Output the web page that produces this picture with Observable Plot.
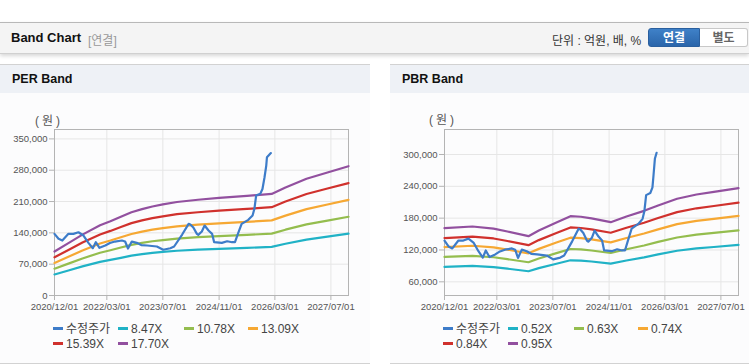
<!DOCTYPE html>
<html><head><meta charset="utf-8">
<script src="https://cdn.jsdelivr.net/npm/d3@7"></script>
<script src="https://cdn.jsdelivr.net/npm/@observablehq/plot@0.6"></script>
<style>
body{margin:0;width:749px;height:364px;position:relative;overflow:hidden;background:#fff;font-family:"Liberation Sans","Noto Sans CJK KR",sans-serif;color:#333;}
.abs{position:absolute;}
.topbar{left:0;top:22px;width:749px;height:30px;background:#f4f4f4;border-top:1px solid #b8b8b8;border-bottom:1px solid #d0d0d0;box-shadow:0 2px 4px rgba(0,0,0,0.16);}
.ttl{font-weight:bold;font-size:13px;color:#111;white-space:nowrap;}
.sub{font-size:12px;color:#999;white-space:nowrap;}
.unit{font-size:12px;color:#333;white-space:nowrap;}
.btn{top:28px;height:19px;line-height:19px;text-align:center;font-size:12px;font-weight:bold;box-sizing:border-box;}
.b1{left:648px;width:52px;background:linear-gradient(#3f81c8,#2a65aa);color:#fff;border:1px solid #2a5f9e;border-radius:3px 0 0 3px;}
.b2{left:700px;width:48px;background:#fff;color:#666;border:1px solid #c8c8c8;border-left:none;border-radius:0 3px 3px 0;}
.panel{top:64px;height:298px;background:#fcfcfd;border-top:1px solid #d2d2d2;border-bottom:1px solid #d2d2d2;}
.phead{left:0;top:0;right:0;height:28px;background:#eef1f6;}
.ptitle{font-weight:bold;font-size:12.5px;color:#111;top:7px;}
.unitlbl{font-size:12px;color:#555;white-space:nowrap;letter-spacing:3px;}
.leg{font-size:12px;color:#444;white-space:nowrap;height:14px;line-height:14px;}
.leg i{display:inline-block;width:10px;height:3px;vertical-align:middle;margin-right:3px;position:relative;top:-1px;}
</style></head>
<body>
<div class="abs topbar"></div>
<div class="abs ttl" style="left:11px;top:30px;">Band Chart</div>
<div class="abs sub" style="left:88px;top:31px;">[연결]</div>
<div class="abs unit" style="left:552px;top:31px;">단위 : 억원, 배, %</div>
<div class="abs btn b1">연결</div>
<div class="abs btn b2">별도</div>

<div class="abs panel" style="left:0;width:370px;"><div class="abs phead"></div><div class="abs ptitle" style="left:12px;">PER Band</div></div>
<div class="abs panel" style="left:390px;width:359px;"><div class="abs phead"></div><div class="abs ptitle" style="left:12px;">PBR Band</div></div>

<div class="abs unitlbl" style="left:35px;top:111px;">(원)</div>
<div class="abs unitlbl" style="left:429px;top:110px;">(원)</div>

<div id="per" class="abs" style="left:0;top:100px;"></div>
<div id="pbr" class="abs" style="left:390px;top:100px;"></div>
<div id="legends"></div>

<script>
// ---- shared categories / ticks ----
const tickLabels = ["2020/12/01","2022/03/01","2023/07/01","2024/11/01","2026/03/01","2027/07/01"];
const xStart = "2020-12-01";
const xEnd = "2027-12-01";
const seriesNames = ["수정주가"];
const colors = ["#3d7cc9","#20b2c6","#94bd4e","#f6a833","#d0312d","#92509f"];

// ---- adjusted share price (원) ----
const priceDates = ["2020-12-01","2021-01-05","2021-02-07","2021-04-01","2021-05-14","2021-06-27","2021-08-10","2021-09-22","2021-10-30","2021-11-25","2021-12-27","2022-02-15","2022-03-28","2022-05-10","2022-07-10","2022-08-07","2022-09-01","2022-10-04","2022-11-16","2022-12-25","2023-02-15","2023-05-10","2023-07-04","2023-09-04","2023-10-07","2023-12-16","2024-02-10","2024-02-25","2024-03-22","2024-04-22","2024-05-04","2024-06-04","2024-06-28","2024-08-01","2024-09-01","2024-09-19","2024-11-25","2025-01-10","2025-02-22","2025-03-19","2025-04-19","2025-05-16","2025-07-13","2025-08-19","2025-09-04","2025-09-19","2025-10-25","2025-11-13"];
const priceValues = [137800,126700,122900,137800,137800,141400,134000,117700,105700,119100,106600,111700,117300,120600,122900,120600,105000,120600,117700,112800,111700,109500,102300,105700,109500,136300,160200,158600,151900,137800,135600,143000,156400,145200,137800,119100,117700,121300,119100,119100,141400,160200,169100,178700,193700,223400,227200,238000];
const perTailDates = ["2025-12-01","2025-12-16","2025-12-22","2026-01-25"];
const perTailValues = [264300,290400,309000,318300];
const pbrTailDates = ["2025-11-22","2025-12-04","2025-12-19"];
const pbrTailValues = [260400,291900,303200];

// ---- PER band: EPS (원) and multiples ----
const epsDates = ["2020-12-01","2021-04-01","2021-08-01","2022-01-01","2022-04-01","2022-07-01","2022-10-01","2023-01-01","2023-04-01","2023-07-01","2023-11-01","2024-05-01","2024-11-01","2025-07-01","2026-02-01","2026-06-01","2026-12-01","2027-06-01","2027-12-01"];
const epsValues = [5554,6610,7684,8870,9379,9944,10508,10904,11243,11497,11808,12090,12316,12571,12825,13644,14746,15537,16328];
const perMultiples = [8.47,10.78,13.09,15.39,17.70];
const perTicks = [0,70000,140000,210000,280000,350000];

// ---- PBR band: BPS (원) and multiples ----
const bpsDates = ["2020-12-01","2021-08-01","2022-02-01","2022-06-01","2022-12-01","2023-03-01","2023-08-01","2023-12-01","2024-03-01","2024-06-01","2024-11-15","2025-04-01","2025-09-01","2026-01-01","2026-06-15","2026-12-01","2027-05-01","2027-12-01"];
const bpsValues = [169600,172900,168700,163000,153700,165000,181000,193400,192200,189000,181500,192800,204000,214600,227900,236400,241500,249200];
const pbrMultiples = [0.52,0.63,0.74,0.84,0.95];
const pbrTicks = [60000,120000,180000,240000,300000];

const parse = s => new Date(s.replace(/\//g,"-") + "T00:00:00Z");
const tickDates = tickLabels.map(parse);
const labelOf = new Map(tickDates.map((d,i)=>[+d, tickLabels[i]]));

function build({baseDates, baseValues, multiples, tailDates, tailValues, yDomain, yTicks, width, marginRight}) {
  const price = priceDates.concat(tailDates).map((d,i)=>({date: parse(d), value: priceValues.concat(tailValues)[i]}));
  const bands = multiples.map(k => baseDates.map((d,i)=>({date: parse(d), value: baseValues[i]*k})));
  return Plot.plot({
    width, height: 220, marginTop: 29, marginBottom: 25, marginLeft: 54, marginRight,
    style: {fontFamily: '"Liberation Sans", sans-serif', fontSize: "9.5px", background: "transparent", overflow: "visible"},
    x: {type: "utc", domain: [parse(xStart), parse(xEnd)]},
    y: {domain: yDomain},
    marks: [
      Plot.gridX(tickDates, {stroke: "#e6e6e6", strokeOpacity: 1}),
      Plot.gridY(yTicks, {stroke: "#e6e6e6", strokeOpacity: 1}),
      Plot.frame({stroke: "#b4b4b4"}),
      Plot.axisX(tickDates, {tickSize: 5, tickPadding: 3, tickFormat: d => labelOf.get(+d), stroke: "#b4b4b4", fill: "#555", label: null}),
      Plot.axisY(yTicks, {tickSize: 5, tickPadding: 2, tickFormat: d3.format(","), stroke: "#b4b4b4", fill: "#555", label: null}),
      ...bands.map((b,j) => Plot.line(b, {x: "date", y: "value", stroke: colors[j+1], strokeWidth: 2.2})),
      Plot.line(price, {x: "date", y: "value", stroke: colors[0], strokeWidth: 2.2})
    ]
  });
}

document.getElementById("per").append(build({baseDates: epsDates, baseValues: epsValues, multiples: perMultiples, tailDates: perTailDates, tailValues: perTailValues, yDomain: [0, 371000], yTicks: perTicks, width: 370, marginRight: 22}));
document.getElementById("pbr").append(build({baseDates: bpsDates, baseValues: bpsValues, multiples: pbrMultiples, tailDates: pbrTailDates, tailValues: pbrTailValues, yDomain: [34200, 347100], yTicks: pbrTicks, width: 359, marginRight: 11}));

// ---- legends ----
const legHost = document.getElementById("legends");
function legend(left0, multiples) {
  const names = seriesNames.concat(multiples.map(m => m.toFixed(2) + "X"));
  const cols = [0, 65, 131, 195];
  names.forEach((n, i) => {
    const row = i < 4 ? 0 : 1;
    const col = i < 4 ? i : i - 4;
    const el = document.createElement("div");
    el.className = "abs leg";
    el.style.left = (left0 + cols[col]) + "px";
    el.style.top = (row ? 337 : 322) + "px";
    el.innerHTML = `<i style="background:${colors[i]}"></i>${n}`;
    legHost.append(el);
  });
}
legend(53, perMultiples);
legend(443, pbrMultiples);
</script>
</body></html>
